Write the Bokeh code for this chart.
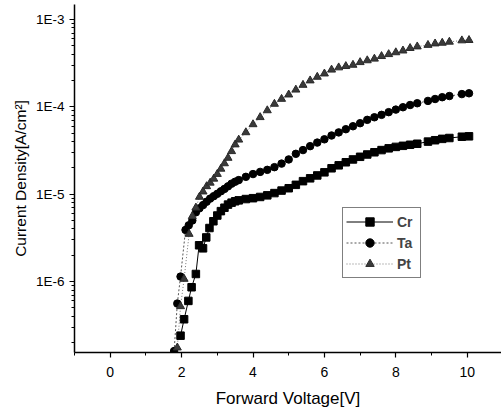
from bokeh.plotting import figure
from bokeh.models import FixedTicker, CustomJSTickFormatter, Range1d, Legend, LegendItem
from bokeh.embed import file_html
from bokeh.resources import INLINE

# ---- data ----
cr_v = [1.97, 2.07, 2.19, 2.28, 2.40, 2.49, 2.60, 2.69, 2.78, 2.89,
        3.00, 3.10, 3.20, 3.30, 3.40, 3.50, 3.60,
        3.80, 4.00, 4.20, 4.40, 4.60, 4.80, 5.00, 5.20, 5.40, 5.60, 5.80, 6.00,
        6.20, 6.40, 6.60, 6.80, 7.00, 7.20, 7.40, 7.60, 7.80, 8.00, 8.20, 8.40, 8.60,
        8.90, 9.10, 9.30, 9.50, 9.85, 10.05]
cr_j = [2.4e-7, 3.7e-7, 6.0e-7, 8.6e-7, 1.22e-6, 2.6e-6, 2.4e-6, 3.2e-6, 4.1e-6, 4.9e-6,
        5.7e-6, 6.4e-6, 7.0e-6, 7.6e-6, 8.0e-6, 8.3e-6, 8.5e-6,
        8.8e-6, 9.0e-6, 9.3e-6, 9.7e-6, 1.03e-5, 1.10e-5, 1.17e-5, 1.28e-5, 1.41e-5, 1.52e-5, 1.64e-5, 1.78e-5,
        1.98e-5, 2.14e-5, 2.32e-5, 2.50e-5, 2.68e-5, 2.85e-5, 3.02e-5, 3.2e-5, 3.35e-5, 3.48e-5, 3.58e-5, 3.68e-5, 3.78e-5,
        4.0e-5, 4.15e-5, 4.3e-5, 4.4e-5, 4.55e-5, 4.6e-5]

ta_v = [1.79, 1.88, 1.97, 2.11,
        2.20, 2.30, 2.40, 2.50, 2.60, 2.70, 2.80, 2.90, 3.00, 3.10, 3.20, 3.30, 3.40, 3.50, 3.60,
        3.80, 4.00, 4.20, 4.40, 4.60, 4.80, 5.00, 5.20, 5.40, 5.60, 5.80, 6.00,
        6.20, 6.40, 6.60, 6.80, 7.00, 7.20, 7.40, 7.60, 7.80, 8.00, 8.20, 8.40, 8.60,
        8.90, 9.10, 9.30, 9.50, 9.85, 10.05]
ta_j = [1.6e-7, 5.6e-7, 1.14e-6, 3.9e-6,
        4.4e-6, 5.0e-6, 6.2e-6, 6.9e-6, 7.5e-6, 8.2e-6, 8.9e-6, 9.5e-6, 1.01e-5, 1.08e-5, 1.15e-5, 1.23e-5, 1.32e-5, 1.39e-5, 1.45e-5,
        1.58e-5, 1.70e-5, 1.80e-5, 1.90e-5, 2.04e-5, 2.24e-5, 2.5e-5, 2.9e-5, 3.2e-5, 3.55e-5, 3.9e-5, 4.25e-5,
        4.7e-5, 5.1e-5, 5.55e-5, 6.0e-5, 6.5e-5, 7.1e-5, 7.6e-5, 8.1e-5, 8.7e-5, 9.3e-5, 9.9e-5, 1.05e-4, 1.10e-4,
        1.17e-4, 1.23e-4, 1.29e-4, 1.33e-4, 1.40e-4, 1.43e-4]

pt_v = [1.88, 1.97, 2.07, 2.21,
        2.30, 2.40, 2.50, 2.60, 2.70, 2.80, 2.90, 3.00, 3.10, 3.20, 3.30, 3.40, 3.50, 3.60,
        3.80, 4.00, 4.20, 4.40, 4.60, 4.80, 5.00, 5.20, 5.40, 5.60, 5.80, 6.00,
        6.20, 6.40, 6.60, 6.80, 7.00, 7.20, 7.40, 7.60, 7.80, 8.00, 8.20, 8.40, 8.60,
        8.90, 9.10, 9.30, 9.50, 9.85, 10.05]
pt_j = [1.75e-7, 5.2e-7, 1.07e-6, 3.5e-6,
        5.6e-6, 7.0e-6, 9.3e-6, 1.07e-5, 1.23e-5, 1.35e-5, 1.5e-5, 1.70e-5, 1.95e-5, 2.25e-5, 2.6e-5, 3.1e-5, 3.7e-5, 4.2e-5,
        5.1e-5, 6.3e-5, 7.6e-5, 9.1e-5, 1.08e-4, 1.23e-4, 1.38e-4, 1.57e-4, 1.78e-4, 2.0e-4, 2.2e-4, 2.4e-4,
        2.66e-4, 2.82e-4, 2.92e-4, 3.02e-4, 3.24e-4, 3.4e-4, 3.55e-4, 3.8e-4, 4.0e-4, 4.2e-4, 4.4e-4, 4.7e-4, 4.9e-4,
        5.1e-4, 5.3e-4, 5.4e-4, 5.55e-4, 5.75e-4, 5.8e-4]

series_names = ["Cr", "Ta", "Pt"]
x_ticks = [0, 2, 4, 6, 8, 10]
x_minor = [-1, 1, 3, 5, 7, 9]
y_ticks = [1e-6, 1e-5, 1e-4, 1e-3]
y_tick_labels = ["1E-6", "1E-5", "1E-4", "1E-3"]
x_title = "Forward Voltage[V]"
y_title = "Current Density[A/cm\u00b2]"

FONT = "Liberation Sans"

p = figure(width=501, height=413,
           x_range=Range1d(-1.0, 10.96), y_range=Range1d(1.54e-7, 1.486e-3),
           y_axis_type="log", output_backend="svg", toolbar_location=None,
           min_border_left=74, min_border_right=0, min_border_top=4, min_border_bottom=61)

p.grid.visible = False
p.outline_line_color = None
p.background_fill_color = "white"
p.border_fill_color = "white"

# lines
cr_line = p.line(cr_v, cr_j, line_color="black", line_width=1)
ta_line = p.line(ta_v, ta_j, line_color="#555555", line_width=1, line_dash="2 2")
pt_line = p.line(pt_v, pt_j, line_color="#777777", line_width=1, line_dash="1 2")

# markers
cr_pts = p.scatter(cr_v, cr_j, marker="square", size=7.5, fill_color="black", line_color="black")
ta_pts = p.scatter(ta_v, ta_j, marker="circle", size=7.5, fill_color="black", line_color="black")
pt_pts = p.scatter(pt_v, pt_j, marker="triangle", size=8, fill_color="#3a3a3a", line_color="#2a2a2a")

# axes
p.xaxis.ticker = FixedTicker(ticks=x_ticks, minor_ticks=x_minor)
minor_y = [m * 10.0 ** e for e in range(-7, -2) for m in range(2, 10)]
p.yaxis.ticker = FixedTicker(ticks=y_ticks, minor_ticks=minor_y)
p.yaxis.formatter = CustomJSTickFormatter(
    args=dict(ytv=y_ticks, ytl=y_tick_labels),
    code="""
    for (let i = 0; i < ytv.length; i++) {
        if (Math.abs(Math.log10(ytv[i]) - Math.log10(tick)) < 1e-6) return ytl[i];
    }
    return '';
    """)

for ax in (p.xaxis[0], p.yaxis[0]):
    ax.axis_line_color = "black"
    ax.axis_line_width = 1.5
    ax.major_tick_line_color = "black"
    ax.minor_tick_line_color = "black"
    ax.major_tick_line_width = 1.2
    ax.major_tick_in = 0
    ax.major_tick_out = 5
    ax.minor_tick_in = 0
    ax.minor_tick_out = 3
    ax.major_label_text_font = FONT
    ax.major_label_text_color = "black"
    ax.axis_label_text_font = FONT
    ax.axis_label_text_font_style = "normal"
    ax.axis_label_text_color = "black"

p.xaxis.axis_label = x_title
p.yaxis.axis_label = y_title
p.xaxis.axis_label_text_font_size = "17px"
p.yaxis.axis_label_text_font_size = "15.5px"
p.xaxis.major_label_text_font_size = "14px"
p.yaxis.major_label_text_font_size = "13.5px"
p.xaxis.major_label_standoff = 9
p.xaxis.axis_label_standoff = 9
p.yaxis.major_label_standoff = 5
p.yaxis.axis_label_standoff = 4

legend = Legend(items=[
    LegendItem(label=series_names[0], renderers=[cr_line, cr_pts]),
    LegendItem(label=series_names[1], renderers=[ta_line, ta_pts]),
    LegendItem(label=series_names[2], renderers=[pt_line, pt_pts]),
], location=(268, 74))
legend.border_line_color = "black"
legend.border_line_width = 1
legend.background_fill_alpha = 1
legend.padding = 3
legend.spacing = 0
legend.margin = 0
legend.glyph_width = 47
legend.glyph_height = 21
legend.label_height = 21
legend.label_standoff = 4
legend.label_text_font = FONT
legend.label_text_font_size = "14px"
legend.label_text_font_style = "bold"
p.add_layout(legend)

open("out.html", "w").write(file_html(p, INLINE))
